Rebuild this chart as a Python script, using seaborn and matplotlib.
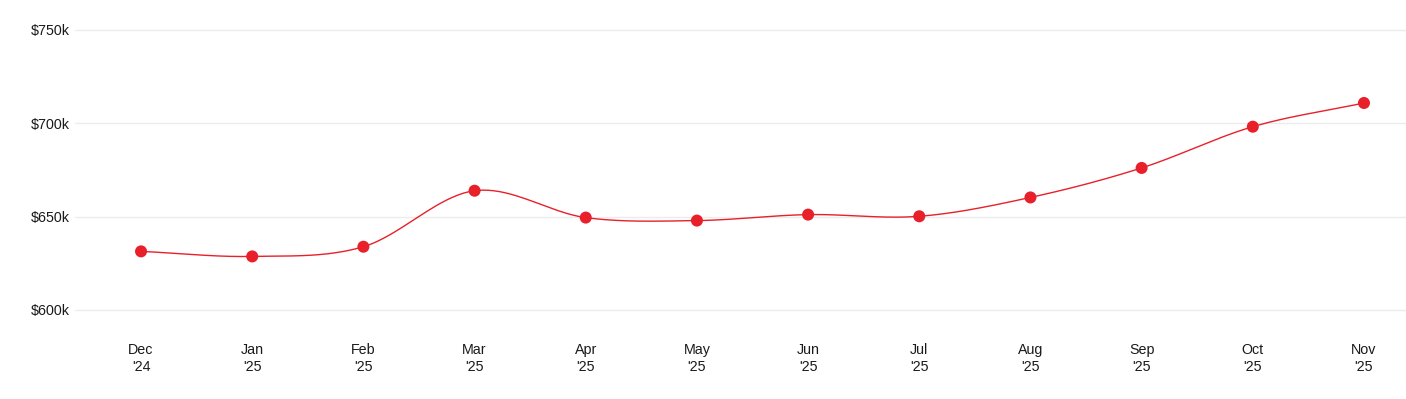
import numpy as np
import pandas as pd
import matplotlib
matplotlib.use('Agg')
import matplotlib.pyplot as plt
import seaborn as sns

# monthly values ($k)
months = ['Dec', 'Jan', 'Feb', 'Mar', 'Apr', 'May', 'Jun', 'Jul', 'Aug', 'Sep', 'Oct', 'Nov']
years = ["'24", "'25", "'25", "'25", "'25", "'25", "'25", "'25", "'25", "'25", "'25", "'25"]
values = [631.4, 628.7, 633.9, 663.9, 649.5, 647.9, 651.1, 650.2, 660.3, 676.1, 698.2, 710.9]
y_ticks = [600, 650, 700, 750]

RED = '#e8202a'

sns.set_style('white')
plt.rcParams['font.family'] = ['Liberation Sans', 'DejaVu Sans']

df = pd.DataFrame({'idx': np.arange(len(values)), 'value': values})


def catmull_rom(y, n=40):
    # smooth curve through the points (cardinal spline)
    y = np.asarray(y, dtype=float)
    p = np.concatenate([[2 * y[0] - y[1]], y, [2 * y[-1] - y[-2]]])
    xs, ys = [], []
    for i in range(len(y) - 1):
        p0, p1, p2, p3 = p[i], p[i + 1], p[i + 2], p[i + 3]
        t = np.linspace(0, 1, n, endpoint=False)
        seg = 0.5 * ((2 * p1) + (-p0 + p2) * t + (2 * p0 - 5 * p1 + 4 * p2 - p3) * t ** 2
                     + (-p0 + 3 * p1 - 3 * p2 + p3) * t ** 3)
        xs.append(i + t)
        ys.append(seg)
    xs.append([len(y) - 1])
    ys.append([y[-1]])
    return np.concatenate(xs), np.concatenate(ys)


sx, sy = catmull_rom(values)
curve = pd.DataFrame({'x': sx, 'y': sy})

fig = plt.figure(figsize=(14.06, 3.99), dpi=100)
ax = fig.add_axes([75 / 1406, 0.1763, 1 - 75 / 1406, 0.9716 - 0.1763])

sns.lineplot(data=curve, x='x', y='y', ax=ax, color=RED, linewidth=1.0, zorder=3)
sns.scatterplot(data=df, x='idx', y='value', ax=ax, color=RED, s=75, edgecolor='none', zorder=4)

ax.set_xlim(-0.594, 11.378)
ax.set_ylim(590, 760)
ax.set_yticks(y_ticks)
ax.set_yticklabels([f'${v}k' for v in y_ticks], fontsize=10.3, color='#1a1a1a')
ax.set_xticks(df['idx'])
ax.set_xticklabels([f'{m}\n{y}' for m, y in zip(months, years)], fontsize=10.3,
                   color='#1a1a1a', linespacing=1.3)
ax.tick_params(axis='y', length=0, pad=4)
ax.tick_params(axis='x', length=0, pad=10)
ax.grid(axis='y', color='#ececec', linewidth=1)
ax.set_xlabel('')
ax.set_ylabel('')
for s in ax.spines.values():
    s.set_visible(False)

fig.savefig('out.png', dpi=100)
